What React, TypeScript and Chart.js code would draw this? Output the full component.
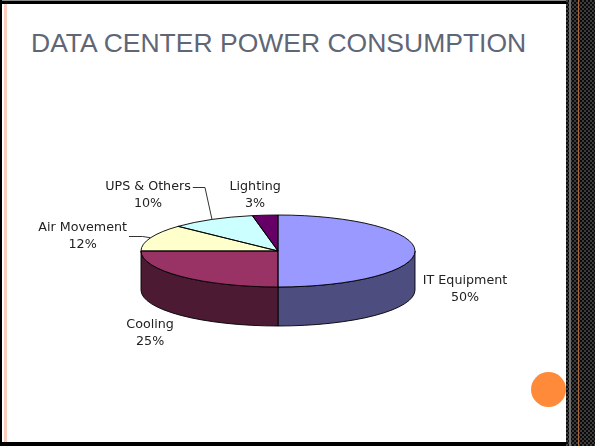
import React, { useEffect, useRef } from "react";
import { Chart, registerables } from "chart.js";

Chart.register(...registerables);

// ---- data ----
const TITLE = "DATA CENTER POWER CONSUMPTION";
const CATEGORIES = ["IT Equipment", "Cooling", "Air Movement", "UPS & Others", "Lighting"];
const VALUES = [50, 25, 12, 10, 3];
const TOP_COLORS = ["#9999FF", "#993366", "#FFFFCC", "#CCFFFF", "#660066"];

// ---- style / layout ----
const RY = 36; // vertical radius of the tilted top face
const DEPTH = 39; // thickness of the pie
const OUTLINE = "rgba(0,0,0,0.9)";
const LABEL_FONT = "12.7px 'DejaVu Sans', Verdana, sans-serif";
const LABEL_OFFSETS: [number, number][] = [
  [50, 38],
  [-31, 57],
  [-68, -2],
  [-64, -24],
  [-10, -20],
];
const LEADERS: Record<number, { y: number; elbow: number }> = {
  2: { y: 0, elbow: -8 },
  3: { y: -8.5, elbow: -7 },
};

function shade(hex: string, f = 0.5): string {
  const n = parseInt(hex.slice(1), 16);
  const r = Math.round(((n >> 16) & 255) * f);
  const g = Math.round(((n >> 8) & 255) * f);
  const b = Math.round((n & 255) * f);
  return `rgb(${r},${g},${b})`;
}

let scaled = false;

const pie3d = {
  id: "pie3d",
  beforeDatasetsDraw(chart: any) {
    const ctx: CanvasRenderingContext2D = chart.ctx;
    const arcs = chart.getDatasetMeta(0).data as any[];
    if (!arcs.length) return;
    const { x: cx, y: cy, outerRadius: r } = arcs[0].getProps(["x", "y", "outerRadius"], true);
    ctx.save();
    ctx.lineWidth = 1;
    ctx.strokeStyle = OUTLINE;
    ctx.lineJoin = "round";
    arcs.forEach((arc, i) => {
      const { startAngle, endAngle } = arc.getProps(["startAngle", "endAngle"], true);
      const a = Math.max(startAngle, 0);
      const b = Math.min(endAngle, Math.PI);
      if (a >= b) return;
      ctx.beginPath();
      ctx.ellipse(cx, cy, r, RY, 0, a, b);
      ctx.lineTo(cx + r * Math.cos(b), cy + RY * Math.sin(b) + DEPTH);
      ctx.ellipse(cx, cy + DEPTH, r, RY, 0, b, a, true);
      ctx.closePath();
      ctx.fillStyle = shade(TOP_COLORS[i]);
      ctx.fill();
      ctx.stroke();
    });
    ctx.restore();
    ctx.save();
    ctx.translate(cx, cy);
    ctx.scale(1, RY / r);
    ctx.translate(-cx, -cy);
    scaled = true;
  },
  afterDatasetsDraw(chart: any) {
    const ctx: CanvasRenderingContext2D = chart.ctx;
    if (scaled) {
      ctx.restore();
      scaled = false;
    }
    const arcs = chart.getDatasetMeta(0).data as any[];
    if (!arcs.length) return;
    const { x: cx, y: cy, outerRadius: r } = arcs[0].getProps(["x", "y", "outerRadius"], true);
    const total = VALUES.reduce((s, v) => s + v, 0);
    ctx.save();
    ctx.lineWidth = 1;
    ctx.strokeStyle = OUTLINE;
    ctx.lineJoin = "round";
    // top face outlines
    arcs.forEach((arc) => {
      const { startAngle, endAngle } = arc.getProps(["startAngle", "endAngle"], true);
      ctx.beginPath();
      ctx.moveTo(cx, cy);
      ctx.ellipse(cx, cy, r, RY, 0, startAngle, endAngle);
      ctx.closePath();
      ctx.stroke();
    });
    // labels
    ctx.font = LABEL_FONT;
    ctx.fillStyle = "#222";
    ctx.textAlign = "center";
    ctx.textBaseline = "middle";
    arcs.forEach((arc, i) => {
      const { startAngle, endAngle } = arc.getProps(["startAngle", "endAngle"], true);
      const mid = (startAngle + endAngle) / 2;
      const ax = cx + r * Math.cos(mid);
      const ay = cy + RY * Math.sin(mid);
      const lx = ax + LABEL_OFFSETS[i][0];
      const ly = ay + LABEL_OFFSETS[i][1];
      const l1 = CATEGORIES[i];
      const l2 = Math.round((VALUES[i] / total) * 100) + "%";
      ctx.fillText(l1, lx, ly - 8.5);
      ctx.fillText(l2, lx, ly + 8.5);
      const ld = LEADERS[i];
      if (ld) {
        const w = Math.max(ctx.measureText(l1).width, ctx.measureText(l2).width);
        const y = Math.round(ly + ld.y) + 0.5;
        ctx.beginPath();
        ctx.strokeStyle = "#333";
        ctx.moveTo(lx + w / 2 + 2, y);
        ctx.lineTo(ax + ld.elbow, y);
        ctx.lineTo(ax, ay);
        ctx.stroke();
      }
    });
    ctx.restore();
  },
};

export default function App() {
  const canvasRef = useRef<HTMLCanvasElement | null>(null);

  useEffect(() => {
    if (!canvasRef.current) return;
    const chart = new Chart(canvasRef.current, {
      type: "pie",
      data: {
        labels: CATEGORIES,
        datasets: [
          {
            data: VALUES,
            backgroundColor: TOP_COLORS,
            borderWidth: 0,
            hoverOffset: 0,
          },
        ],
      },
      options: {
        animation: false,
        responsive: false,
        devicePixelRatio: 1,
        events: [],
        radius: 137,
        layout: { padding: { left: 141, right: 180, top: 114, bottom: 58 } },
        plugins: {
          legend: { display: false },
          tooltip: { enabled: false },
          title: { display: false },
        },
      } as any,
      plugins: [pie3d as any],
    });
    return () => chart.destroy();
  }, []);

  return (
    <div
      style={{
        position: "fixed",
        left: 0,
        top: 0,
        width: 595,
        height: 446,
        background: "#fff",
        overflow: "hidden",
      }}
    >
      {/* frame */}
      <div style={{ position: "absolute", left: 0, top: 0, width: 566, height: 1, background: "#8a8a8a" }} />
      <div style={{ position: "absolute", left: 0, top: 1, width: 566, height: 3, background: "#000" }} />
      <div style={{ position: "absolute", left: 0, top: 0, width: 2, height: 446, background: "#000" }} />
      <div style={{ position: "absolute", left: 0, top: 442, width: 566, height: 4, background: "#000" }} />
      <div style={{ position: "absolute", left: 4, top: 4, width: 3, height: 438, background: "#fbcdbf" }} />
      {/* right patterned strip */}
      <div
        style={{
          position: "absolute",
          left: 566,
          top: 0,
          width: 29,
          height: 446,
          background: "repeating-conic-gradient(#0a0a0a 0 25%, #3c3c3c 0 50%) 0 0 / 4px 4px",
        }}
      />
      <div style={{ position: "absolute", left: 569, top: 0, width: 2, height: 446, background: "#707070" }} />
      <div style={{ position: "absolute", left: 578, top: 0, width: 1, height: 446, background: "#a8663a" }} />
      {/* title */}
      <div
        style={{
          position: "absolute",
          left: 31,
          top: 30,
          fontFamily: "'Liberation Sans', Arial, sans-serif",
          fontSize: 26.5,
          lineHeight: "27px",
          color: "#5f6676",
          whiteSpace: "nowrap",
        }}
      >
        {TITLE}
      </div>
      <canvas
        ref={canvasRef}
        width={595}
        height={446}
        style={{ position: "absolute", left: 0, top: 0, width: 595, height: 446 }}
      />
      {/* orange dot */}
      <div
        style={{
          position: "absolute",
          left: 531,
          top: 372,
          width: 35,
          height: 35,
          borderRadius: "50%",
          background: "#ff8a3a",
        }}
      />
    </div>
  );
}
